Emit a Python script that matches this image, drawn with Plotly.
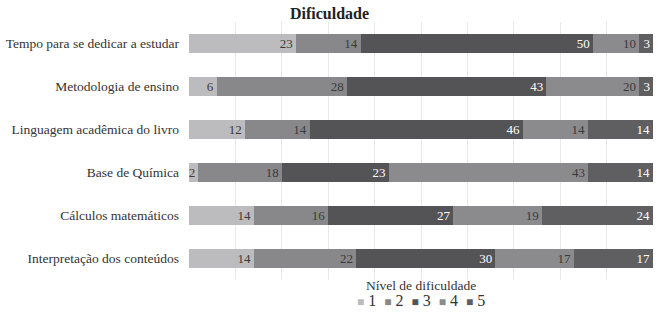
import plotly.graph_objects as go

categories = [
    "Tempo para se dedicar a estudar",
    "Metodologia de ensino",
    "Linguagem acadêmica do livro",
    "Base de Química",
    "Cálculos matemáticos",
    "Interpretação dos conteúdos",
]
levels = ["1", "2", "3", "4", "5"]
level1 = [23, 6, 12, 2, 14, 14]
level2 = [14, 28, 14, 18, 16, 22]
level3 = [50, 43, 46, 23, 27, 30]
level4 = [10, 20, 14, 43, 19, 17]
level5 = [3, 3, 14, 14, 24, 17]
series = [level1, level2, level3, level4, level5]

colors = ["#bcbcbe", "#88888b", "#545457", "#8b8b8e", "#5f5f62"]
text_colors = ["#3a3a3a", "#3a3a3a", "#ffffff", "#3a3a3a", "#ffffff"]

font_family = "Liberation Serif, Times New Roman, serif"

fig = go.Figure()
for name, vals, c, tc in zip(levels, series, colors, text_colors):
    fig.add_trace(go.Bar(
        name=name,
        y=categories,
        x=vals,
        orientation="h",
        marker=dict(color=c, line=dict(width=0)),
        text=[str(v) for v in vals],
        textposition="inside",
        insidetextanchor="end",
        textangle=0,
        constraintext="none",
        textfont=dict(family=font_family, size=13, color=tc),
        hoverinfo="skip",
        showlegend=False,
    ))

# compact legend built from the level names and colours
legend_items = [
    f'<span style="color:{c};font-size:12px">■</span>&nbsp;{lv}'
    for lv, c in zip(levels, colors)
]
legend_text = "&nbsp;&nbsp;".join(legend_items)

fig.add_annotation(
    text="Nível de dificuldade",
    xref="paper", yref="paper", x=0.5, y=-0.02,
    xanchor="center", yanchor="middle", showarrow=False,
    font=dict(family=font_family, size=13.5, color="#333333"),
)
fig.add_annotation(
    text=legend_text,
    xref="paper", yref="paper", x=0.5, y=-0.078,
    xanchor="center", yanchor="middle", showarrow=False,
    font=dict(family=font_family, size=16, color="#333333"),
)

fig.update_layout(
    barmode="stack",
    bargap=0.58,
    width=659,
    height=314,
    margin=dict(l=189, r=6, t=22, b=34),
    paper_bgcolor="white",
    plot_bgcolor="white",
    font=dict(family=font_family, color="#333333"),
    title=dict(
        text="<b>Dificuldade</b>",
        x=0.5,
        xanchor="center",
        y=0.958,
        yanchor="middle",
        font=dict(family=font_family, size=16, color="#222222"),
    ),
    showlegend=False,
    xaxis=dict(
        range=[0, 100],
        dtick=10,
        showgrid=True,
        gridcolor="#e8e8e8",
        gridwidth=1,
        showticklabels=False,
        zeroline=False,
        showline=False,
        fixedrange=True,
        automargin=False,
    ),
    yaxis=dict(
        autorange="reversed",
        showgrid=False,
        tickfont=dict(family=font_family, size=13.5, color="#333333"),
        ticklabelstandoff=9,
        showline=False,
        zeroline=False,
        automargin=False,
        fixedrange=True,
    ),
)

fig.write_html(
    "out.html",
    config={"displayModeBar": False},
    post_script="document.body.style.margin='0';",
)
